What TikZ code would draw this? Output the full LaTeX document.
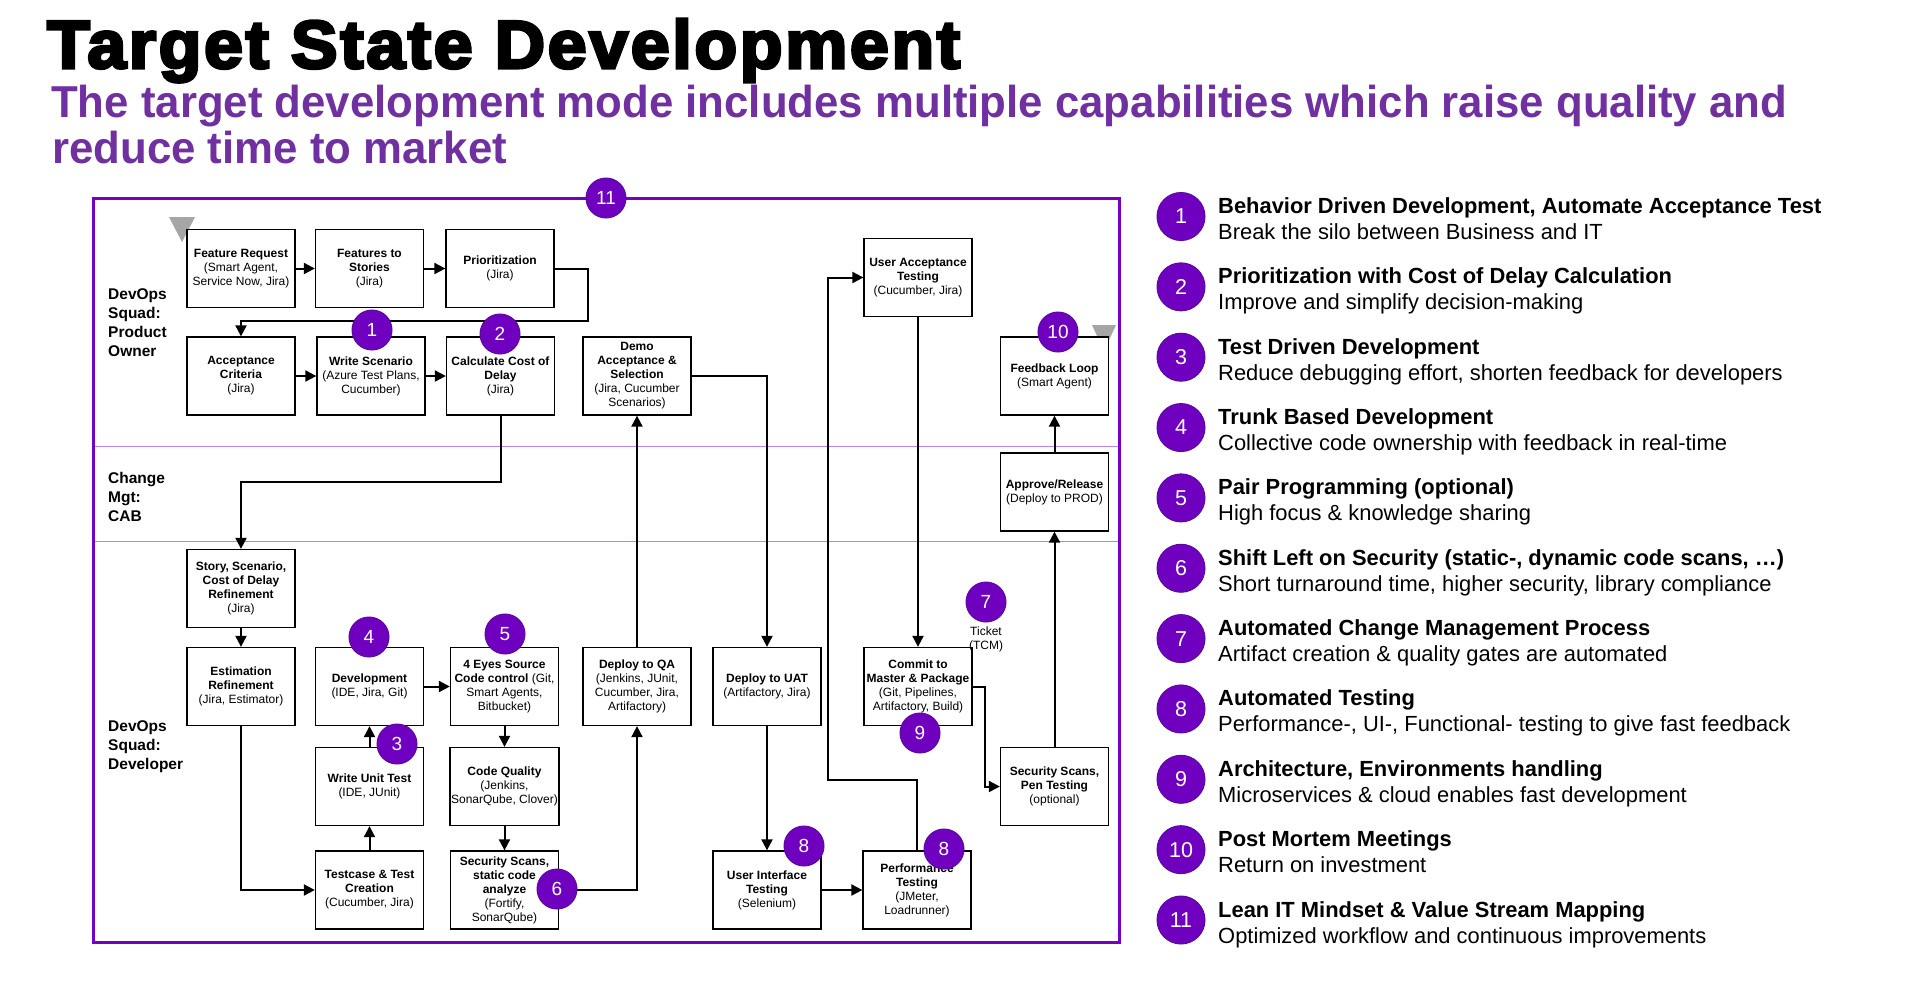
\documentclass[tikz,border=0pt]{standalone}
\usepackage{fontspec}
\usepackage{graphicx}
\setmainfont{Liberation Sans}
\newfontfamily\titlefont{Liberation Sans Bold}[FakeBold=4.5, LetterSpace=4]
\usetikzlibrary{arrows.meta}

\definecolor{framepurple}{HTML}{7400C7}
\definecolor{badgefill}{HTML}{7000C0}
\definecolor{badgeline}{HTML}{5A0A9E}
\definecolor{subpurple}{HTML}{7030A0}
\definecolor{lanepurple}{HTML}{B784E8}
\definecolor{startgray}{HTML}{A6A6A6}

\tikzset{
  box/.style={draw=black, line width=1.3pt, fill=white, minimum width=108pt,
    minimum height=78pt, inner sep=1pt, align=center,
    font=\fontsize{12}{14}\selectfont},
  flow/.style={line width=2pt, -{Triangle[length=11pt,width=11pt]}},
  badge/.style={circle, fill=badgefill, draw=badgeline, line width=1pt,
    minimum size=40pt, inner sep=0pt, text=white,
    font=\fontsize{19}{19}\selectfont},
  legbadge/.style={badge, minimum size=48pt, font=\fontsize{21.5}{21.5}\selectfont},
  lane/.style={anchor=north west, inner sep=0pt, align=left,
    font=\bfseries\fontsize{15.5}{19}\selectfont},
  leghead/.style={anchor=base west, inner sep=0pt,
    font=\bfseries\fontsize{21.9}{24}\selectfont},
  legtext/.style={anchor=base west, inner sep=0pt,
    font=\fontsize{21.9}{24}\selectfont},
}

\begin{document}
\begin{tikzpicture}[x=1pt,y=-1pt]
\useasboundingbox[fill=white] (0,0) rectangle (1912,997);

% headline
\node[anchor=base west, inner sep=0pt] (title) at (47,68)
  {\resizebox{913pt}{49pt}{\titlefont\fontsize{60}{60}\selectfont Target State Development}};
\node[anchor=base west, inner sep=0pt, text=subpurple] (sub1) at (51,117)
  {\resizebox{1736pt}{\height}{\bfseries\fontsize{44.7}{46}\selectfont The target development mode includes multiple capabilities which raise quality and}};
\node[anchor=base west, inner sep=0pt, text=subpurple] (sub2) at (52,163)
  {\resizebox{455pt}{\height}{\bfseries\fontsize{44.7}{46}\selectfont reduce time to market}};

% value stream frame and swim lanes
\draw[framepurple, line width=3pt] (93,198) rectangle (1119,942);
\draw[lanepurple, line width=1pt] (94.5,446) -- (1117.5,446);
\draw[lanepurple, line width=1pt] (94.5,541) -- (1117.5,541);

\node[lane] (lanepo) at (108,288.5) {DevOps\\Squad:\\Product\\Owner};
\node[lane] (lanecab) at (108,472) {Change\\Mgt:\\CAB};
\node[lane] (lanedev) at (108,720) {DevOps\\Squad:\\Developer};

% start and end markers
\fill[startgray] (169,217) -- (195,217) -- (182,242) -- cycle;
\fill[startgray] (1092,325) -- (1116,325) -- (1104,351) -- cycle;

% process steps
\node[box] (fr) at (241,268.5) {\textbf{Feature Request}\\(Smart Agent,\\Service Now, Jira)};
\node[box] (fts) at (369.5,268.5) {\textbf{Features to}\\\textbf{Stories}\\(Jira)};
\node[box] (prio) at (500,268.5) {\textbf{Prioritization}\\(Jira)};
\node[box] (acc) at (241,376) {\textbf{Acceptance}\\\textbf{Criteria}\\(Jira)};
\node[box] (ws) at (371,376) {\textbf{Write Scenario}\\(Azure Test Plans,\\Cucumber)};
\node[box] (ccd) at (500.5,376) {\textbf{Calculate Cost of}\\\textbf{Delay}\\(Jira)};
\node[box] (demo) at (637,376) {\textbf{Demo}\\\textbf{Acceptance \&}\\\textbf{Selection}\\(Jira, Cucumber\\Scenarios)};
\node[box] (uat) at (918,277.5) {\textbf{User Acceptance}\\\textbf{Testing}\\(Cucumber, Jira)};
\node[box] (fb) at (1054.5,376) {\textbf{Feedback Loop}\\(Smart Agent)};
\node[box] (appr) at (1054.5,492) {\textbf{Approve/Release}\\(Deploy to PROD)};
\node[box] (story) at (241,588.5) {\textbf{Story, Scenario,}\\\textbf{Cost of Delay}\\\textbf{Refinement}\\(Jira)};
\node[box] (est) at (241,686.5) {\textbf{Estimation}\\\textbf{Refinement}\\(Jira, Estimator)};
\node[box] (dev) at (369.5,686.5) {\textbf{Development}\\(IDE, Jira, Git)};
\node[box] (eyes) at (504.5,686.5) {\textbf{4 Eyes Source}\\\textbf{Code control} (Git,\\Smart Agents,\\Bitbucket)};
\node[box] (dqa) at (637,686.5) {\textbf{Deploy to QA}\\(Jenkins, JUnit,\\Cucumber, Jira,\\Artifactory)};
\node[box] (duat) at (767,686.5) {\textbf{Deploy to UAT}\\(Artifactory, Jira)};
\node[box] (commit) at (918,686.5) {\textbf{Commit to}\\\textbf{Master \& Package}\\(Git, Pipelines,\\Artifactory, Build)};
\node[box] (wut) at (369.5,786.5) {\textbf{Write Unit Test}\\(IDE, JUnit)};
\node[box] (cq) at (504.5,786.5) {\textbf{Code Quality}\\(Jenkins,\\SonarQube, Clover)};
\node[box] (secpen) at (1054.5,786.5) {\textbf{Security Scans,}\\\textbf{Pen Testing}\\(optional)};
\node[box] (tc) at (369.5,890) {\textbf{Testcase \& Test}\\\textbf{Creation}\\(Cucumber, Jira)};
\node[box] (secst) at (504.5,890) {\textbf{Security Scans,}\\\textbf{static code}\\\textbf{analyze}\\(Fortify,\\SonarQube)};
\node[box] (uit) at (767,890) {\textbf{User Interface}\\\textbf{Testing}\\(Selenium)};
\node[box] (perf) at (917,890) {\textbf{Performance}\\\textbf{Testing}\\(JMeter,\\Loadrunner)};

% bend points of routed connectors
\coordinate (pj) at (588,321);
\coordinate (cj) at (500.5,482);
\coordinate (perfj) at (828,780);
\coordinate (comj) at (985,686.5);

% connectors
\draw[flow] (fr.east) -- (fts.west);
\draw[flow] (fts.east) -- (prio.west |- fts.east);
\draw[flow] (prio.east) -| (pj) -| (acc.north);
\draw[flow] (acc.east) -- (ws.west);
\draw[flow] (ws.east) -- (ccd.west);
\draw[flow] (ccd.south) -- (cj) -| (story.north);
\draw[flow] (story.south) -- (est.north);
\draw[flow] (est.south) |- (tc.west);
\draw[flow] (tc.north) -- (wut.south);
\draw[flow] (wut.north) -- (dev.south);
\draw[flow] (dev.east) -- (eyes.west);
\draw[flow] (eyes.south) -- (cq.north);
\draw[flow] (cq.south) -- (secst.north);
\draw[flow] (secst.east) -| (dqa.south);
\draw[flow] (dqa.north) -- (demo.south);
\draw[flow] (demo.east) -| (duat.north);
\draw[flow] (duat.south) -- (uit.north);
\draw[flow] (uit.east) -- (perf.west);
\draw[flow] (perf.north) |- (perfj) |- (uat.west);
\draw[flow] (uat.south) -- (commit.north);
\draw[flow] (commit.east) -- (comj) |- (secpen.west);
\draw[flow] (secpen.north) -- (appr.south);
\draw[flow] (appr.north) -- (fb.south);

% capability markers on the flow
\node[badge] (b11) at (606,198) {11};
\node[badge] (b1) at (372,330) {1};
\node[badge] (b2) at (500,334) {2};
\node[badge] (b10) at (1058,332) {10};
\node[badge] (b4) at (369,637) {4};
\node[badge] (b5) at (505,634) {5};
\node[badge] (b3) at (397,744) {3};
\node[badge] (b6) at (557,889) {6};
\node[badge] (b7) at (986,602) {7};
\node[badge] (b9) at (920,733) {9};
\node[badge] (b8a) at (804,846) {8};
\node[badge] (b8b) at (944,849) {8};
\node[inner sep=0pt, align=center, font=\fontsize{12}{14}\selectfont] (ticket) at (986,639) {Ticket\\(TCM)};

% legend of capabilities
\foreach \n/\hd/\tx in {
  1/{Behavior Driven Development, Automate Acceptance Test}/{Break the silo between Business and IT},
  2/{Prioritization with Cost of Delay Calculation}/{Improve and simplify decision-making},
  3/{Test Driven Development}/{Reduce debugging effort, shorten feedback for developers},
  4/{Trunk Based Development}/{Collective code ownership with feedback in real-time},
  5/{Pair Programming (optional)}/{High focus \& knowledge sharing},
  6/{Shift Left on Security (static-, dynamic code scans, …)}/{Short turnaround time, higher security, library compliance},
  7/{Automated Change Management Process}/{Artifact creation \& quality gates are automated},
  8/{Automated Testing}/{Performance-, UI-, Functional- testing to give fast feedback},
  9/{Architecture, Environments handling}/{Microservices \& cloud enables fast development},
  10/{Post Mortem Meetings}/{Return on investment},
  11/{Lean IT Mindset \& Value Stream Mapping}/{Optimized workflow and continuous improvements}} {
  \pgfmathsetmacro\yy{216.5+70.35*(\n-1)}
  \node[legbadge] (leg\n) at (1181,\yy) {\n};
  \node[leghead] (legh\n) at (1218,{\yy-3}) {\hd};
  \node[legtext] (legt\n) at (1218,{\yy+23}) {\tx};
}
\end{tikzpicture}
\end{document}
